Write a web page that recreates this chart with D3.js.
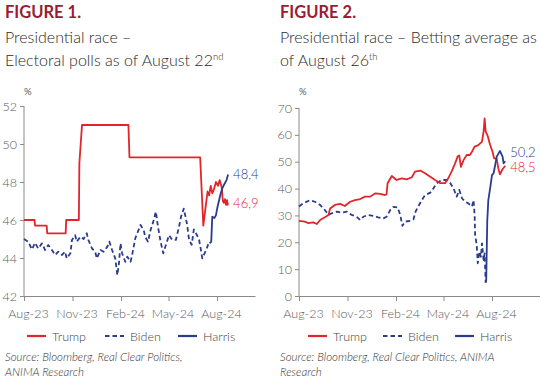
<!DOCTYPE html>
<html><head><meta charset="utf-8">
<script src="https://cdn.jsdelivr.net/npm/d3@7"></script>
<style>body{margin:0;background:#fff}svg{display:block}</style>
</head><body><svg id="c" width="540" height="379"></svg>
<script>
// ---------- data ----------
const xTickLabels = ["Aug-23","Nov-23","Feb-24","May-24","Aug-24"];
const xTickDates  = ["2023-08-01","2023-11-01","2024-02-01","2024-05-01","2024-08-01"];
const pollTicks = [42,44,46,48,50,52];
const betTicks  = [0,10,20,30,40,50,60,70];
const legendNames = ["Trump","Biden","Harris"];

const pollTrump = [["2023-08-01",46.0],["2023-08-21",46.0],["2023-08-22",45.7],["2023-09-13",45.7],["2023-09-14",45.3],["2023-10-19",45.3],["2023-10-20",46.0],["2023-11-13",46.0],["2023-11-14",49.0],["2023-11-19",51.0],["2024-02-15",51.0],["2024-02-17",49.3],["2024-06-30",49.3],["2024-07-06",45.7],["2024-07-10",46.6],["2024-07-14",47.5],["2024-07-17",47.3],["2024-07-20",47.8],["2024-07-23",47.4],["2024-07-26",47.6],["2024-07-30",48.0],["2024-08-03",47.8],["2024-08-06",48.1],["2024-08-10",47.7],["2024-08-12",47.0],["2024-08-14",46.9],["2024-08-16",47.1],["2024-08-18",46.8],["2024-08-20",47.05],["2024-08-21",46.8],["2024-08-22",46.9]];
const pollBiden = [["2023-08-01",45.0],["2023-08-09",44.86],["2023-08-16",44.45],["2023-08-22",44.8],["2023-08-28",44.5],["2023-09-04",44.77],["2023-09-10",44.42],["2023-09-16",44.68],["2023-09-23",44.42],["2023-09-29",44.16],["2023-10-05",44.33],["2023-10-12",44.16],["2023-10-18",44.33],["2023-10-21",43.98],["2023-10-28",44.25],["2023-10-31",44.95],["2023-11-06",45.2],["2023-11-09",44.86],["2023-11-16",45.12],["2023-11-22",45.0],["2023-11-28",45.3],["2023-12-01",44.95],["2023-12-08",44.5],["2023-12-14",44.33],["2023-12-17",43.98],["2023-12-24",44.42],["2023-12-30",44.33],["2024-01-06",44.6],["2024-01-10",44.86],["2024-01-15",44.42],["2024-01-21",43.98],["2024-01-25",43.1],["2024-01-28",43.7],["2024-01-31",44.77],["2024-02-03",44.25],["2024-02-09",43.8],["2024-02-13",44.07],["2024-02-19",43.8],["2024-02-22",44.16],["2024-02-28",45.04],["2024-03-09",45.74],["2024-03-15",45.47],["2024-03-18",45.1],["2024-03-23",44.86],["2024-03-28",45.47],["2024-04-02",45.9],["2024-04-07",46.44],["2024-04-11",45.65],["2024-04-16",44.86],["2024-04-21",44.25],["2024-04-26",44.68],["2024-05-02",45.2],["2024-05-08",44.95],["2024-05-15",44.95],["2024-05-21",45.65],["2024-05-25",46.2],["2024-05-30",46.6],["2024-06-05",45.8],["2024-06-09",44.95],["2024-06-14",44.7],["2024-06-18",45.5],["2024-06-24",45.2],["2024-06-28",44.95],["2024-07-01",44.5],["2024-07-04",43.98],["2024-07-07",44.16],["2024-07-11",44.4],["2024-07-15",44.7],["2024-07-18",44.77]];
const pollHarris = [["2024-07-18",44.77],["2024-07-21",44.86],["2024-07-23",46.17],["2024-07-27",46.1],["2024-07-30",46.26],["2024-08-02",46.7],["2024-08-05",47.05],["2024-08-08",47.4],["2024-08-11",47.67],["2024-08-14",47.84],["2024-08-19",48.1],["2024-08-22",48.4]];

const betTrump = [["2023-08-01",28.0],["2023-08-12",27.7],["2023-08-19",27.1],["2023-08-28",27.4],["2023-09-04",26.8],["2023-09-10",28.3],["2023-09-19",29.3],["2023-09-26",30.2],["2023-09-29",32.6],["2023-10-08",33.9],["2023-10-18",34.3],["2023-10-27",33.5],["2023-11-06",35.1],["2023-11-15",35.7],["2023-11-25",36.1],["2023-12-04",37.0],["2023-12-14",37.0],["2023-12-23",38.2],["2024-01-02",38.0],["2024-01-11",37.6],["2024-01-14",37.8],["2024-01-16",42.0],["2024-01-24",44.7],["2024-02-02",43.2],["2024-02-12",43.8],["2024-02-21",43.4],["2024-03-02",44.2],["2024-03-08",46.3],["2024-03-18",46.7],["2024-03-27",45.7],["2024-04-06",44.4],["2024-04-15",43.2],["2024-04-25",42.0],["2024-05-04",42.0],["2024-05-10",43.8],["2024-05-17",46.6],["2024-05-23",49.4],["2024-05-28",52.0],["2024-05-31",52.3],["2024-06-03",48.1],["2024-06-08",50.6],["2024-06-14",52.5],["2024-06-20",52.5],["2024-06-24",53.7],["2024-06-29",55.6],["2024-07-06",56.2],["2024-07-13",57.5],["2024-07-16",61.2],["2024-07-18",66.1],["2024-07-20",61.2],["2024-07-24",59.5],["2024-07-28",56.5],["2024-08-02",53.7],["2024-08-05",51.3],["2024-08-10",51.0],["2024-08-13",47.5],["2024-08-16",45.3],["2024-08-21",47.2],["2024-08-26",48.5]];
const betBiden = [["2023-08-01",33.3],["2023-08-09",34.5],["2023-08-22",35.7],["2023-08-31",35.1],["2023-09-10",33.9],["2023-09-19",32.0],["2023-09-26",30.2],["2023-10-02",30.8],["2023-10-12",31.4],["2023-10-21",31.0],["2023-10-31",31.4],["2023-11-09",30.2],["2023-11-18",29.5],["2023-11-25",28.3],["2023-12-01",29.5],["2023-12-10",30.2],["2023-12-20",29.8],["2023-12-29",29.3],["2024-01-08",28.9],["2024-01-14",29.5],["2024-01-21",32.0],["2024-01-27",33.2],["2024-02-04",33.0],["2024-02-09",30.2],["2024-02-13",26.1],["2024-02-18",27.7],["2024-02-28",28.0],["2024-03-05",28.5],["2024-03-09",31.4],["2024-03-14",33.3],["2024-03-21",35.7],["2024-03-27",37.6],["2024-04-06",38.5],["2024-04-12",40.1],["2024-04-18",42.0],["2024-04-28",43.2],["2024-05-07",43.2],["2024-05-14",42.0],["2024-05-20",40.1],["2024-05-26",37.0],["2024-05-31",39.5],["2024-06-05",36.4],["2024-06-11",35.1],["2024-06-17",34.5],["2024-06-24",33.3],["2024-06-27",35.7],["2024-06-29",30.2],["2024-06-30",22.7],["2024-07-03",19.0],["2024-07-05",12.2],["2024-07-08",16.5],["2024-07-11",14.6],["2024-07-13",19.6],["2024-07-16",13.4],["2024-07-18",15.9],["2024-07-20",5.0]];
const betHarris = [["2024-07-20",5.0],["2024-07-21",6.0],["2024-07-23",28.0],["2024-07-25",35.7],["2024-07-28",39.5],["2024-08-01",45.0],["2024-08-04",45.7],["2024-08-10",51.9],["2024-08-16",54.0],["2024-08-21",51.9],["2024-08-23",49.4],["2024-08-26",50.2]];

const pollEndLabels = ["48,4","46,9"];
const betEndLabels  = ["50,2","48,5"];

// ---------- styling ----------
const RED = "#e2252b", BLUE = "#2b3c8c", TITLE = "#9b1b32", GREY = "#5a5a5a", AXIS = "#8a8a8a";
const FONT = "Lato, 'Open Sans', sans-serif";
const parse = d3.timeParse("%Y-%m-%d");
const svg = d3.select("#c").style("font-family", FONT);

function chart(o) {
  const g = svg.append("g");
  const x = d3.scaleTime().domain([parse("2023-08-01"), parse(o.xEnd)]).range(o.xr);
  const y = d3.scaleLinear().domain(o.yd).range([296, o.yTop]);

  // titles
  g.append("text").attr("x", o.tx).attr("y", 18).attr("fill", TITLE)
    .attr("font-size", 16.5).attr("font-weight", 700).text(o.fig);
  o.sub.forEach((s, i) => {
    const t = g.append("text").attr("x", o.tx).attr("y", 43 + i * 23).attr("fill", "#2a2a2a")
      .attr("font-size", 16).attr("font-weight", 300);
    t.append("tspan").text(s[0]);
    if (s[1]) t.append("tspan").attr("font-size", 9.5).attr("dy", -6.5).text(s[1]);
  });
  g.append("text").attr("x", o.xr[0]).attr("y", 95).attr("fill", GREY).attr("font-size", 9.5).text("%");

  // y axis
  const ya = g.append("g").attr("transform", `translate(${o.xr[0]},0)`)
    .call(d3.axisLeft(y).tickValues(o.yTicks).tickSize(4).tickPadding(3).tickFormat(d3.format("d")));
  ya.select(".domain").attr("stroke", AXIS).attr("d", `M-0,${o.yTop}V296`);
  ya.selectAll(".tick line").attr("stroke", AXIS);
  ya.selectAll(".tick text").attr("fill", GREY).attr("font-size", 12.5).attr("font-family", FONT).attr("font-weight", 300);

  // x axis
  const xa = g.append("g").attr("transform", "translate(0,296)")
    .call(d3.axisBottom(x).tickValues(xTickDates.map(parse)).tickSize(5).tickSizeOuter(0).tickPadding(8)
      .tickFormat((d, i) => xTickLabels[i]));
  xa.select(".domain").attr("stroke", AXIS);
  xa.selectAll(".tick line").attr("stroke", AXIS);
  xa.selectAll(".tick text").attr("fill", GREY).attr("font-size", 12.5).attr("font-family", FONT).attr("font-weight", 300).attr("dx", 4);

  const line = d3.line().x(d => x(parse(d[0]))).y(d => y(d[1]));
  const draw = (data, col, dash) => g.append("path").datum(data).attr("d", line)
    .attr("fill", "none").attr("stroke", col).attr("stroke-width", 1.8)
    .attr("stroke-linejoin", "round").attr("stroke-dasharray", dash || null);
  draw(o.biden, BLUE, "4.5,3");
  draw(o.trump, RED);
  draw(o.harris, BLUE);

  // end labels
  const lastH = o.harris[o.harris.length - 1], lastT = o.trump[o.trump.length - 1];
  g.append("text").attr("x", x(parse(lastH[0])) + o.lblDx).attr("y", y(lastH[1]) + o.lblDyH)
    .attr("fill", BLUE).attr("font-size", 13).attr("font-weight", 300).text(o.labels[0]);
  g.append("text").attr("x", x(parse(lastT[0])) + o.lblDx).attr("y", y(lastT[1]) + o.lblDyT)
    .attr("fill", RED).attr("font-size", 13).attr("font-weight", 300).text(o.labels[1]);

  // legend
  const cols = [RED, BLUE, BLUE], dashes = [null, "4.5,3", null];
  legendNames.forEach((n, i) => {
    const lx = o.legX[i];
    g.append("line").attr("x1", lx).attr("x2", lx + 19).attr("y1", 336).attr("y2", 336)
      .attr("stroke", cols[i]).attr("stroke-width", 2.2).attr("stroke-dasharray", dashes[i]);
    g.append("text").attr("x", lx + 25).attr("y", 340.5).attr("fill", "#444").attr("font-size", 12.5)
      .attr("font-weight", 300).text(n);
  });

  // source
  o.src.forEach((s, i) => g.append("text").attr("x", o.tx).attr("y", 361 + i * 15).attr("fill", "#333")
    .attr("font-size", 11.5).attr("font-style", "italic").attr("font-weight", 300).text(s));
}

chart({
  fig: "FIGURE 1.", tx: 5,
  sub: [["Presidential race \u2013"], ["Electoral polls as of August 22", "nd"]],
  xr: [24, 255], xEnd: "2024-10-12", yd: [42, 52], yTop: 106, yTicks: pollTicks,
  trump: pollTrump, biden: pollBiden, harris: pollHarris, labels: pollEndLabels,
  lblDx: 5, lblDyH: 5, lblDyT: 5,
  legX: [27, 105, 178],
  src: ["Source: Bloomberg, Real Clear Politics,", "ANIMA Research"]
});
chart({
  fig: "FIGURE 2.", tx: 280,
  sub: [["Presidential race \u2013 Betting average as"], ["of August 26", "th"]],
  xr: [299, 540], xEnd: "2024-10-31", yd: [0, 70], yTop: 108, yTicks: betTicks,
  trump: betTrump, biden: betBiden, harris: betHarris, labels: betEndLabels,
  lblDx: 5, lblDyH: -4, lblDyT: 6.5,
  legX: [308, 383, 455],
  src: ["Source: Bloomberg, Real Clear Politics, ANIMA", "Research"]
});
</script></body></html>
